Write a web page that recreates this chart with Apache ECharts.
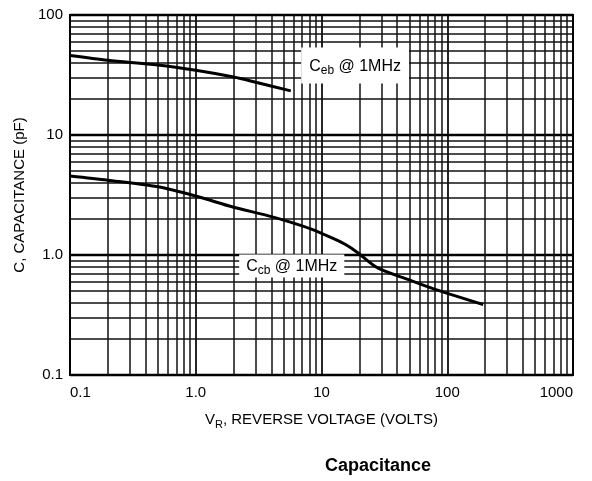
<!DOCTYPE html>
<html><head><meta charset="utf-8">
<script src="https://cdn.jsdelivr.net/npm/echarts@6/dist/echarts.min.js"></script>
<style>html,body{margin:0;padding:0;background:#fff}#c{width:592px;height:481px}</style>
</head><body><div id="c"></div>
<script>
var cebVolts = [0.1, 0.2, 0.5, 1, 2, 3, 5.7];
var cebCap = [46, 42, 38.3, 34.6, 30.4, 27.5, 23.3];
var ccbVolts = [0.1, 0.2, 0.5, 1, 2, 3.67, 5.65, 8.2, 12.6, 16, 19.3, 28, 50, 79, 193];
var ccbCap = [4.55, 4.2, 3.7, 3.1, 2.5, 2.14, 1.88, 1.65, 1.36, 1.2, 1.05, 0.78, 0.62, 0.52, 0.387];
var xTickLabels = {0.1: '0.1', 1: '1.0', 10: '10', 100: '100', 1000: '1000'};
var yTickLabels = {0.1: '0.1', 1: '1.0', 10: '10', 100: '100'};
var xDecades = [0.1, 1, 10, 100];
var yDecades = [0.1, 1, 10];
var multiples = [2, 3, 4, 5, 6, 7, 8, 9];

var xGrid = [], yGrid = [];
xDecades.forEach(function (d) { multiples.forEach(function (m) { xGrid.push(+(d * m).toPrecision(3)); }); });
yDecades.forEach(function (d) { multiples.forEach(function (m) { yGrid.push(+(d * m).toPrecision(3)); }); });

function pairs(xs, ys) { return xs.map(function (x, i) { return [x, ys[i]]; }); }

var font = 'Liberation Sans, Arial, sans-serif';
var gridLine = {color: '#111', width: 1.5, type: 'solid'};
var markLines = [];
xGrid.forEach(function (v) { markLines.push({xAxis: v}); });
yGrid.forEach(function (v) { markLines.push({yAxis: v}); });

var chart = echarts.init(document.getElementById('c'), null, {renderer: 'canvas'});
chart.setOption({
  animation: false,
  backgroundColor: '#fff',
  title: {
    text: 'Capacitance', left: 373, top: 452, textAlign: 'center',
    textStyle: {fontFamily: font, fontWeight: 'bold', fontSize: 18, color: '#000'}
  },
  grid: {left: 70, right: 19, top: 15, bottom: 106, show: true, borderColor: '#000', borderWidth: 2, backgroundColor: 'transparent'},
  xAxis: {
    type: 'log', logBase: 10, min: 0.1, max: 1000,
    axisLine: {show: true, lineStyle: {color: '#000', width: 2}},
    axisTick: {show: false},
    splitLine: {show: true, lineStyle: {color: '#000', width: 1.7}},
    axisLabel: {
      color: '#000', fontFamily: font, fontSize: 15, margin: 10,
      formatter: function (v) { return xTickLabels[+v.toPrecision(3)] || ''; },
      alignMinLabel: 'left', alignMaxLabel: 'right'
    },
    name: '{n|V}{s|R}{n|, REVERSE VOLTAGE (VOLTS)}', nameLocation: 'middle', nameGap: 35,
    nameTextStyle: {
      color: '#000', fontFamily: font,
      rich: {n: {fontSize: 15, fontFamily: font, color: '#000', verticalAlign: 'middle', lineHeight: 20},
             s: {fontSize: 11, fontFamily: font, color: '#000', verticalAlign: 'bottom', lineHeight: 14}}
    }
  },
  yAxis: {
    type: 'log', logBase: 10, min: 0.1, max: 100,
    axisLine: {show: true, lineStyle: {color: '#000', width: 2}},
    axisTick: {show: false},
    splitLine: {show: true, lineStyle: {color: '#000', width: 2.3}},
    axisLabel: {
      color: '#000', fontFamily: font, fontSize: 15, margin: 7,
      formatter: function (v) { return yTickLabels[+v.toPrecision(3)] || ''; }
    },
    name: 'C, CAPACITANCE (pF)', nameLocation: 'middle', nameGap: 42, nameRotate: 90,
    nameTextStyle: {color: '#000', fontFamily: font, fontSize: 15}
  },
  series: [
    {
      name: 'grid', type: 'line', data: [[0.1, 0.1]], symbol: 'none', silent: true, z: 1,
      lineStyle: {width: 0},
      markLine: {silent: true, symbol: ['none', 'none'], label: {show: false}, lineStyle: gridLine, data: markLines, z: 1, animation: false}
    },
    {
      name: 'Ceb', type: 'line', data: pairs(cebVolts, cebCap), symbol: 'none', smooth: 0.3, z: 5,
      lineStyle: {color: '#000', width: 3},
      markPoint: {
        symbol: 'rect', symbolSize: 0, silent: true,
        data: [{coord: [18.5, 38]}],
        label: {
          show: true, position: 'inside', backgroundColor: '#fff', padding: [9, 8, 7, 8],
          formatter: '{a|C}{b|eb}{a| @ 1MHz}',
          rich: {a: {fontSize: 16, fontFamily: font, color: '#000', verticalAlign: 'middle', lineHeight: 20},
                 b: {fontSize: 12, fontFamily: font, color: '#000', verticalAlign: 'bottom', lineHeight: 14}}
        }
      }
    },
    {
      name: 'Ccb', type: 'line', data: pairs(ccbVolts, ccbCap), symbol: 'none', smooth: 0.3, z: 5,
      lineStyle: {color: '#000', width: 3},
      markPoint: {
        symbol: 'rect', symbolSize: 0, silent: true,
        data: [{coord: [5.8, 0.81]}],
        label: {
          show: true, position: 'inside', backgroundColor: '#fff', padding: [2, 7, 1, 7],
          formatter: '{a|C}{b|cb}{a| @ 1MHz}',
          rich: {a: {fontSize: 16, fontFamily: font, color: '#000', verticalAlign: 'middle', lineHeight: 20},
                 b: {fontSize: 12, fontFamily: font, color: '#000', verticalAlign: 'bottom', lineHeight: 14}}
        }
      }
    }
  ]
});
</script></body></html>
